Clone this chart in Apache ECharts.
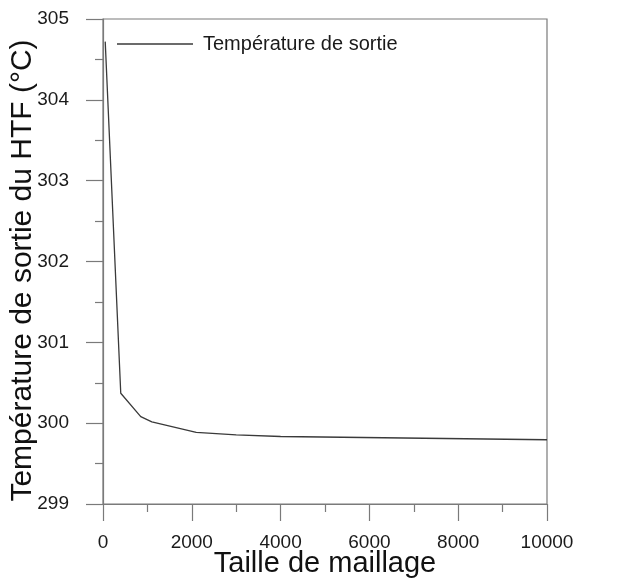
<!DOCTYPE html>
<html>
<head>
<meta charset="utf-8">
<script src="https://cdn.jsdelivr.net/npm/echarts@6/dist/echarts.min.js"></script>
<style>html,body{margin:0;padding:0;background:#fff;}#c{width:627px;height:579px;}</style>
</head>
<body>
<div id="c"></div>
<script>
const meshSizes = [50, 400, 850, 1100, 2100, 3000, 4000, 10000];
const outletTemp = [304.72, 300.37, 300.08, 300.015, 299.885, 299.855, 299.835, 299.795];
const seriesName = 'Température de sortie';
const xTitle = 'Taille de maillage';
const yTitle = 'Température de sortie du HTF (°C)';

const axisCol = '#7a7a7a';
const font = 'Liberation Sans, Arial, sans-serif';
const chart = echarts.init(document.getElementById('c'), null, {renderer: 'canvas'});
chart.setOption({
  animation: false,
  backgroundColor: '#fff',
  grid: {left: 103, right: 80, top: 19, bottom: 75, show: true, borderColor: axisCol, borderWidth: 1.2,
         containLabel: false, outerBoundsMode: 'none'},
  legend: {
    left: 112, top: 29, icon: 'rect', itemWidth: 76, itemHeight: 1.5,
    data: [seriesName],
    textStyle: {fontFamily: font, fontSize: 20, color: '#1a1a1a', padding: [0, 0, 0, 5]}
  },
  xAxis: {
    type: 'value', min: 0, max: 10000, interval: 2000,
    name: xTitle, nameLocation: 'middle', nameGap: 45, nameMoveOverlap: false,
    nameTextStyle: {fontFamily: font, fontSize: 29, color: '#111'},
    axisLine: {lineStyle: {color: axisCol, width: 1.2}},
    axisTick: {show: true, length: 17, lineStyle: {color: axisCol, width: 1.2}},
    minorTick: {show: true, splitNumber: 2, length: 8, lineStyle: {color: axisCol, width: 1.2}},
    splitLine: {show: false},
    axisLabel: {fontFamily: font, fontSize: 19, color: '#1a1a1a', margin: 29, formatter: v => String(v)}
  },
  yAxis: {
    type: 'value', min: 299, max: 305, interval: 1,
    name: yTitle, nameLocation: 'middle', nameGap: 65, nameRotate: 90, nameMoveOverlap: false,
    nameTextStyle: {fontFamily: font, fontSize: 30, color: '#111', padding: [0, 18, 0, 0]},
    axisLine: {lineStyle: {color: axisCol, width: 1.2}},
    axisTick: {show: true, length: 17, lineStyle: {color: axisCol, width: 1.2}},
    minorTick: {show: true, splitNumber: 2, length: 8, lineStyle: {color: axisCol, width: 1.2}},
    splitLine: {show: false},
    axisLabel: {fontFamily: font, fontSize: 19, color: '#1a1a1a', margin: 34, formatter: v => String(v)}
  },
  series: [{
    name: seriesName, type: 'line', showSymbol: false, symbol: 'none',
    data: meshSizes.map((x, i) => [x, outletTemp[i]]),
    lineStyle: {color: '#3a3a3a', width: 1.3},
    itemStyle: {color: '#3a3a3a'}
  }]
});
</script>
</body>
</html>
